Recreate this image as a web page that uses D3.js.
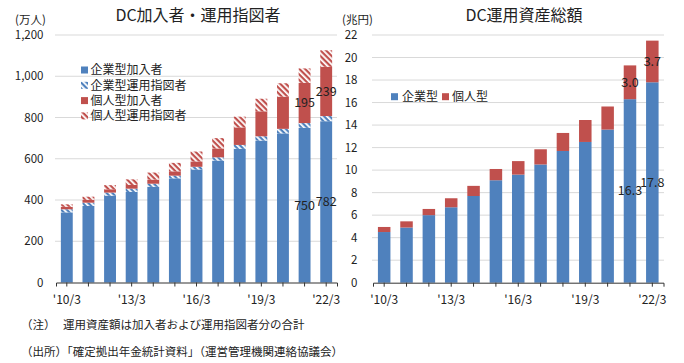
<!DOCTYPE html>
<html><head><meta charset="utf-8">
<script src="https://cdn.jsdelivr.net/npm/d3@7"></script>
<style>
body{margin:0;background:#fff;}
text{font-family:"Noto Sans CJK JP","Noto Sans",sans-serif;fill:#222;}
</style></head>
<body>
<svg id="c" width="684" height="363"></svg>
<script>
const categories = ["10/3","11/3","12/3","13/3","14/3","15/3","16/3","17/3","18/3","19/3","20/3","21/3","22/3"];
// Left chart (万人)
const corpMembers = [340,371,421,439,464,505,548,591,648,688,723,750,782];
const corpDirectors = [15,16,15,16,15,13,13,16,19,21,22,23,25];
const indivMembers = [12,14,16,18,20,21,26,43,85,121,156,195,239];
const indivDirectors = [12,15,20,27,34,41,48,50,52,61,65,70,80];
const leftTicks = [0,200,400,600,800,1000,1200];
const leftSeriesNames = ["企業型加入者","企業型運用指図者","個人型加入者","個人型運用指図者"];
// Right chart (兆円)
const corpAssets = [4.5,4.9,6.0,6.7,7.7,9.1,9.6,10.5,11.7,12.5,13.6,16.3,17.8];
const indivAssets = [0.45,0.55,0.55,0.8,0.9,1.0,1.2,1.35,1.6,1.95,2.05,3.0,3.7];
const rightTicks = [0,2,4,6,8,10,12,14,16,18,20,22];
const rightSeriesNames = ["企業型","個人型"];
const labelIdx = [0,3,6,9,12];

const BLUE="#4F81BD", RED="#C0504D", GRID="#D9D9D9";
const svg = d3.select("#c");
const defs = svg.append("defs");
function hatch(id,color){
  const p = defs.append("pattern").attr("id",id).attr("patternUnits","userSpaceOnUse")
    .attr("width",4).attr("height",4).attr("patternTransform","rotate(45)");
  p.append("rect").attr("width",4).attr("height",4).attr("fill","#fff");
  p.append("rect").attr("width",4).attr("height",2.2).attr("fill",color);
}
hatch("hb",BLUE); hatch("hr",RED);

function xAxis(g,x,y0){
  const ax = d3.axisBottom(x).tickSize(4).tickSizeOuter(4)
    .tickFormat((d,i)=> labelIdx.includes(i) ? "'"+d : "");
  const a = g.append("g").attr("transform",`translate(0,${y0})`).call(ax);
  a.select(".domain").attr("stroke","#333");
  a.selectAll(".tick line").attr("stroke","#333");
  a.selectAll(".tick text").attr("font-size",12).attr("dy","1.2em").attr("fill","#222");
}
function yGrid(g,y,ticks,x0,x1,fmt,labX){
  ticks.forEach(t=>{
    if(t>0) g.append("line").attr("x1",x0).attr("x2",x1).attr("y1",y(t)).attr("y2",y(t)).attr("stroke",GRID).attr("stroke-width",1);
    g.append("text").attr("x",labX).attr("y",y(t)).attr("dy","0.35em").attr("text-anchor","end").attr("font-size",11.5).text(fmt(t));
  });
}

// ---------- Left chart ----------
{
  const g = svg.append("g");
  const x = d3.scaleBand().domain(categories).range([56,337]).paddingInner(0.45).paddingOuter(0.225);
  const y = d3.scaleLinear().domain([0,1200]).range([282.5,35]);
  yGrid(g,y,leftTicks,55,337,d3.format(","),43.5);
  const rows = categories.map((c,i)=>({c, v:[corpMembers[i],corpDirectors[i],indivMembers[i],indivDirectors[i]]}));
  const fills=[BLUE,"url(#hb)",RED,"url(#hr)"];
  rows.forEach(r=>{
    let acc=0;
    r.v.forEach((v,k)=>{
      g.append("rect").attr("x",x(r.c)).attr("width",x.bandwidth())
        .attr("y",y(acc+v)).attr("height",y(acc)-y(acc+v)).attr("fill",fills[k]);
      acc+=v;
    });
  });
  xAxis(g,x,282.5);
  [11,12].forEach(i=>{
    const cx = x(categories[i])+x.bandwidth()/2;
    g.append("text").attr("x",cx).attr("y",y(corpMembers[i]/2)).attr("dy","0.35em").attr("text-anchor","middle").attr("font-size",12.5).attr("fill","#111").text(corpMembers[i]);
    const b = corpMembers[i]+corpDirectors[i];
    g.append("text").attr("x",cx).attr("y",y(b+indivMembers[i]/2)).attr("dy","0.35em").attr("text-anchor","middle").attr("font-size",12.5).attr("fill","#111").text(indivMembers[i]);
  });
  g.append("text").attr("x",198).attr("y",15).attr("dy","0.35em").attr("text-anchor","middle").attr("font-size",16).text("DC加入者・運用指図者");
  g.append("text").attr("x",15).attr("y",19.5).attr("dy","0.35em").attr("font-size",11.5).text("(万人)");
  leftSeriesNames.forEach((n,k)=>{
    const yy = 70 + k*15.3;
    g.append("rect").attr("x",81).attr("y",yy-3.5).attr("width",7).attr("height",7).attr("fill",fills[k]);
    g.append("text").attr("x",90.5).attr("y",yy).attr("dy","0.35em").attr("font-size",12).text(n);
  });
}

// ---------- Right chart ----------
{
  const g = svg.append("g");
  const x = d3.scaleBand().domain(categories).range([373,663.5]).paddingInner(0.44).paddingOuter(0.22);
  const y = d3.scaleLinear().domain([0,22]).range([282.7,35]);
  yGrid(g,y,rightTicks,372,664,d3.format("d"),357.5);
  categories.forEach((c,i)=>{
    g.append("rect").attr("x",x(c)).attr("width",x.bandwidth()).attr("y",y(corpAssets[i])).attr("height",y(0)-y(corpAssets[i])).attr("fill",BLUE);
    g.append("rect").attr("x",x(c)).attr("width",x.bandwidth()).attr("y",y(corpAssets[i]+indivAssets[i])).attr("height",y(corpAssets[i])-y(corpAssets[i]+indivAssets[i])).attr("fill",RED);
  });
  xAxis(g,x,282.7);
  const f = d3.format(".1f");
  [11,12].forEach(i=>{
    const cx = x(categories[i])+x.bandwidth()/2;
    g.append("text").attr("x",cx).attr("y",y(corpAssets[i]/2)).attr("dy","0.35em").attr("text-anchor","middle").attr("font-size",12.5).attr("fill","#111").text(f(corpAssets[i]));
    g.append("text").attr("x",cx).attr("y",y(corpAssets[i]+indivAssets[i]/2)).attr("dy","0.35em").attr("text-anchor","middle").attr("font-size",12.5).attr("fill","#111").text(f(indivAssets[i]));
  });
  g.append("text").attr("x",524).attr("y",15).attr("dy","0.35em").attr("text-anchor","middle").attr("font-size",16).text("DC運用資産総額");
  g.append("text").attr("x",342).attr("y",19.5).attr("dy","0.35em").attr("font-size",11.5).text("(兆円)");
  [[391,BLUE,402,rightSeriesNames[0]],[442,RED,452,rightSeriesNames[1]]].forEach(([sx,col,tx,n])=>{
    g.append("rect").attr("x",sx).attr("y",96.7-3.5).attr("width",7).attr("height",7).attr("fill",col);
    g.append("text").attr("x",tx).attr("y",96.7).attr("dy","0.35em").attr("font-size",12).text(n);
  });
}

// ---------- Notes ----------
svg.append("text").attr("x",21).attr("y",325).attr("dy","0.35em").attr("font-size",11.5).text("（注）");
svg.append("text").attr("x",63).attr("y",325).attr("dy","0.35em").attr("font-size",11.5).text("運用資産額は加入者および運用指図者分の合計");
svg.append("text").attr("x",21).attr("y",352).attr("dy","0.35em").attr("font-size",11.5).text("（出所）「確定拠出年金統計資料」（運営管理機関連絡協議会）");
</script>
</body></html>
